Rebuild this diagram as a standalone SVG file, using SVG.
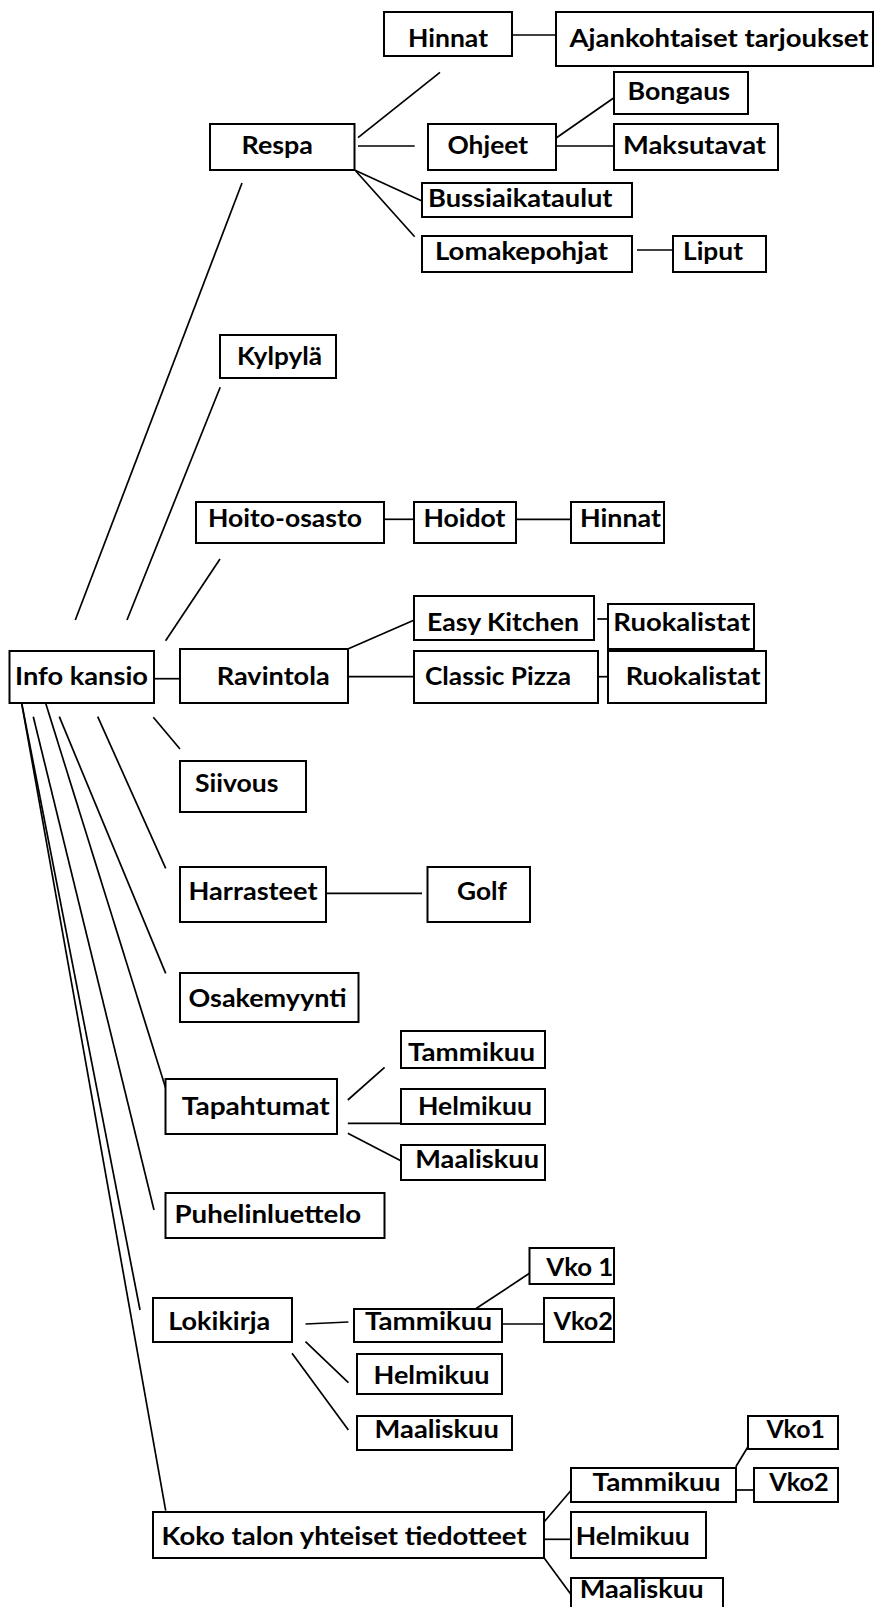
<svg xmlns="http://www.w3.org/2000/svg" width="874" height="1607" viewBox="0 0 874 1607">
<style>
.b{fill:#fff;stroke:#000;stroke-width:2}
.c path{fill:none;stroke:#000;stroke-width:1.7}
text{font-family:Lato,"Open Sans","Liberation Sans",sans-serif;font-weight:700;font-size:24px;fill:#000}
</style>
<rect width="874" height="1607" fill="#fff"/>
<g id="connectors" class="c">
<path d="M512 35H556"/>
<path d="M358 137.7L440 72.3"/>
<path d="M358 146H414.7"/>
<path d="M354.5 170L422 201"/>
<path d="M355.8 171L414.7 236.7"/>
<path d="M556.5 137.7L614 97.7"/>
<path d="M556 146H614"/>
<path d="M637 250H673"/>
<path d="M242 183L75.3 620"/>
<path d="M220.2 387.3L127 620"/>
<path d="M220 559L165.6 640.7"/>
<path d="M384 519.3H414"/>
<path d="M516 519.3H571"/>
<path d="M154 678.7H180"/>
<path d="M347.8 649L414.3 620"/>
<path d="M597.3 619H607.7"/>
<path d="M348 676.7H414"/>
<path d="M598 676.7H608"/>
<path d="M153.3 717.3L180 749"/>
<path d="M97.7 716.7L165.7 868.3"/>
<path d="M327 893.3H422"/>
<path d="M59.3 716.7L165.7 973.3"/>
<path d="M45.7 703.3L165.7 1088.3"/>
<path d="M347.8 1100L384.6 1067.3"/>
<path d="M347.8 1123.3H401.3"/>
<path d="M347.8 1133.3L401.3 1161"/>
<path d="M33.3 716.7L154 1210"/>
<path d="M21.7 703.3L140 1310"/>
<path d="M305.5 1324L348.4 1322"/>
<path d="M475 1309.3L529.5 1273.3"/>
<path d="M501.7 1324H544"/>
<path d="M305.5 1341.7L348.4 1382.7"/>
<path d="M292 1353.3L348.4 1430"/>
<path d="M21.7 703.3L165.7 1510.7"/>
<path d="M544 1522L571.4 1490"/>
<path d="M544 1539.3H571.4"/>
<path d="M544 1557.7L571.4 1595"/>
<path d="M735.8 1466.7L748 1446.7"/>
<path d="M735.8 1490H753.6"/>
</g>
<g id="n-hinnat1"><rect class="b" x="384" y="12" width="128" height="44"/><text x="408" y="46.5" textLength="80" lengthAdjust="spacingAndGlyphs">Hinnat</text></g>
<g id="n-ajankohtaiset"><rect class="b" x="556" y="12" width="317" height="54"/><text x="569.5" y="46.5" textLength="299" lengthAdjust="spacingAndGlyphs">Ajankohtaiset tarjoukset</text></g>
<g id="n-respa"><rect class="b" x="210" y="124" width="144.5" height="46"/><text x="241.5" y="154" textLength="71.5" lengthAdjust="spacingAndGlyphs">Respa</text></g>
<g id="n-ohjeet"><rect class="b" x="428" y="124" width="128" height="46"/><text x="447.5" y="154" textLength="80.5" lengthAdjust="spacingAndGlyphs">Ohjeet</text></g>
<g id="n-bongaus"><rect class="b" x="614" y="72" width="134" height="42"/><text x="627.5" y="100" textLength="102.5" lengthAdjust="spacingAndGlyphs">Bongaus</text></g>
<g id="n-maksutavat"><rect class="b" x="614" y="124" width="164" height="46"/><text x="623" y="154" textLength="143" lengthAdjust="spacingAndGlyphs">Maksutavat</text></g>
<g id="n-bussi"><rect class="b" x="422" y="183" width="210" height="34"/><text x="428" y="206.5" textLength="184.5" lengthAdjust="spacingAndGlyphs">Bussiaikataulut</text></g>
<g id="n-lomake"><rect class="b" x="422" y="236" width="210" height="36"/><text x="435" y="260" textLength="173" lengthAdjust="spacingAndGlyphs">Lomakepohjat</text></g>
<g id="n-liput"><rect class="b" x="673" y="236" width="93" height="36"/><text x="683" y="260" textLength="60" lengthAdjust="spacingAndGlyphs">Liput</text></g>
<g id="n-kylpyla"><rect class="b" x="220" y="335" width="116" height="43"/><text x="237" y="365" textLength="85" lengthAdjust="spacingAndGlyphs">Kylpylä</text></g>
<g id="n-hoito"><rect class="b" x="196" y="502" width="188" height="41"/><text x="208" y="526.5" textLength="154" lengthAdjust="spacingAndGlyphs">Hoito-osasto</text></g>
<g id="n-hoidot"><rect class="b" x="414" y="502" width="102" height="41"/><text x="423.5" y="526.5" textLength="82" lengthAdjust="spacingAndGlyphs">Hoidot</text></g>
<g id="n-hinnat2"><rect class="b" x="571" y="502" width="93" height="41"/><text x="580" y="526.5" textLength="81" lengthAdjust="spacingAndGlyphs">Hinnat</text></g>
<g id="n-easy"><rect class="b" x="414" y="596" width="180" height="44"/><text x="427" y="631" textLength="152" lengthAdjust="spacingAndGlyphs">Easy Kitchen</text></g>
<g id="n-ruok1"><rect class="b" x="608" y="604" width="146" height="45"/><text x="613.3" y="631" textLength="137" lengthAdjust="spacingAndGlyphs">Ruokalistat</text></g>
<g id="n-info"><rect class="b" x="9.5" y="651" width="144.5" height="52"/><text x="15" y="685" textLength="133" lengthAdjust="spacingAndGlyphs">Info kansio</text></g>
<g id="n-ravintola"><rect class="b" x="180" y="649" width="168" height="54"/><text x="216.7" y="685" textLength="113" lengthAdjust="spacingAndGlyphs">Ravintola</text></g>
<g id="n-classic"><rect class="b" x="414" y="651" width="184" height="52"/><text x="425" y="685" textLength="146" lengthAdjust="spacingAndGlyphs">Classic Pizza</text></g>
<g id="n-ruok2"><rect class="b" x="608" y="651" width="158" height="52"/><text x="625.7" y="685" textLength="135" lengthAdjust="spacingAndGlyphs">Ruokalistat</text></g>
<g id="n-siivous"><rect class="b" x="180" y="761" width="126" height="51"/><text x="195" y="791.5" textLength="83.5" lengthAdjust="spacingAndGlyphs">Siivous</text></g>
<g id="n-harrasteet"><rect class="b" x="180" y="867" width="146" height="55"/><text x="188.5" y="900" textLength="129" lengthAdjust="spacingAndGlyphs">Harrasteet</text></g>
<g id="n-golf"><rect class="b" x="427.5" y="867" width="102.5" height="55"/><text x="457" y="900" textLength="50" lengthAdjust="spacingAndGlyphs">Golf</text></g>
<g id="n-osakemyynti"><rect class="b" x="180" y="973" width="178.5" height="49"/><text x="188.5" y="1006.5" textLength="158" lengthAdjust="spacingAndGlyphs">Osakemyynti</text></g>
<g id="n-tap-tammikuu"><rect class="b" x="401" y="1031" width="144" height="37"/><text x="408" y="1060.5" textLength="127" lengthAdjust="spacingAndGlyphs">Tammikuu</text></g>
<g id="n-tapahtumat"><rect class="b" x="165.5" y="1079" width="171.5" height="55"/><text x="181.7" y="1115" textLength="148" lengthAdjust="spacingAndGlyphs">Tapahtumat</text></g>
<g id="n-tap-helmikuu"><rect class="b" x="401" y="1089" width="144" height="35"/><text x="418" y="1115" textLength="114" lengthAdjust="spacingAndGlyphs">Helmikuu</text></g>
<g id="n-tap-maaliskuu"><rect class="b" x="401" y="1145" width="144" height="35"/><text x="415.3" y="1167.5" textLength="123.7" lengthAdjust="spacingAndGlyphs">Maaliskuu</text></g>
<g id="n-puhelin"><rect class="b" x="165.5" y="1193" width="219" height="45"/><text x="174.5" y="1222.5" textLength="186.7" lengthAdjust="spacingAndGlyphs">Puhelinluettelo</text></g>
<g id="n-lok-vko1"><rect class="b" x="529.5" y="1248" width="84.5" height="36"/><text x="546.3" y="1276" textLength="67" lengthAdjust="spacingAndGlyphs">Vko 1</text></g>
<g id="n-lokikirja"><rect class="b" x="153" y="1298" width="139" height="44"/><text x="168.3" y="1330" textLength="102" lengthAdjust="spacingAndGlyphs">Lokikirja</text></g>
<g id="n-lok-tammikuu"><rect class="b" x="354" y="1309" width="148" height="33"/><text x="365" y="1330" textLength="127" lengthAdjust="spacingAndGlyphs">Tammikuu</text></g>
<g id="n-lok-vko2"><rect class="b" x="544" y="1298" width="70" height="44"/><text x="553.5" y="1330" textLength="59.5" lengthAdjust="spacingAndGlyphs">Vko2</text></g>
<g id="n-lok-helmikuu"><rect class="b" x="357" y="1354" width="145" height="40"/><text x="373.5" y="1384" textLength="116" lengthAdjust="spacingAndGlyphs">Helmikuu</text></g>
<g id="n-lok-maaliskuu"><rect class="b" x="357" y="1416" width="155" height="34"/><text x="374.6" y="1437.5" textLength="124.3" lengthAdjust="spacingAndGlyphs">Maaliskuu</text></g>
<g id="n-koko-vko1"><rect class="b" x="748" y="1416" width="90" height="33"/><text x="766.4" y="1437.5" textLength="58.5" lengthAdjust="spacingAndGlyphs">Vko1</text></g>
<g id="n-koko-tammikuu"><rect class="b" x="571" y="1468" width="165" height="34"/><text x="592.5" y="1491" textLength="128" lengthAdjust="spacingAndGlyphs">Tammikuu</text></g>
<g id="n-koko-vko2"><rect class="b" x="754" y="1468" width="84" height="34"/><text x="769.2" y="1491" textLength="59.6" lengthAdjust="spacingAndGlyphs">Vko2</text></g>
<g id="n-koko"><rect class="b" x="153" y="1512" width="391" height="46"/><text x="161.6" y="1545" textLength="365" lengthAdjust="spacingAndGlyphs">Koko talon yhteiset tiedotteet</text></g>
<g id="n-koko-helmikuu"><rect class="b" x="571" y="1512" width="135" height="46"/><text x="575.8" y="1545" textLength="114" lengthAdjust="spacingAndGlyphs">Helmikuu</text></g>
<g id="n-koko-maaliskuu"><rect class="b" x="571" y="1578" width="152" height="34"/><text x="579.7" y="1598.3" textLength="123.8" lengthAdjust="spacingAndGlyphs">Maaliskuu</text></g>
</svg>
